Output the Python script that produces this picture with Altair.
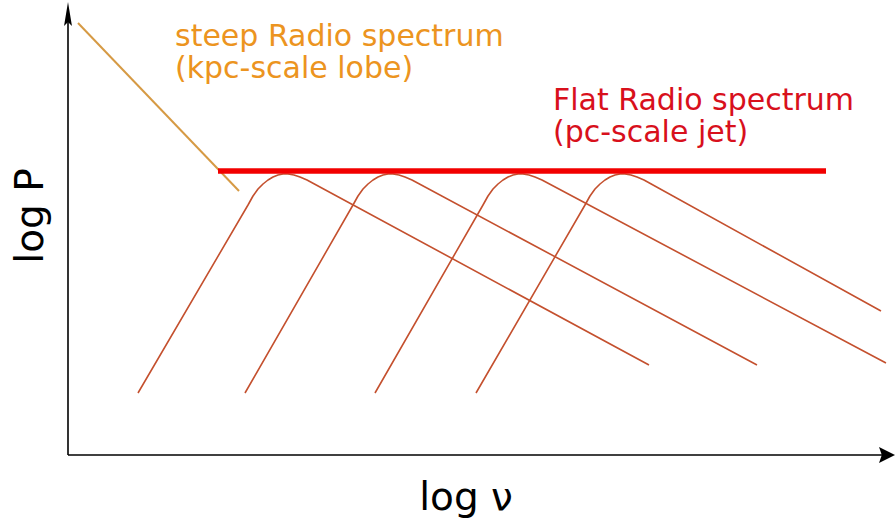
import altair as alt
import pandas as pd

# Schematic units: log ν along x, log P along y (origin at the axes corner)
X_DOMAIN = [-68, 828]
Y_DOMAIN = [-72, 455]

# Individual self-absorbed synchrotron components (rise, turnover, optically thin fall)
comp1_nu = [70, 180, 185, 190, 195, 200, 205, 210, 215, 220, 226, 232, 239, 581]
comp1_p = [62, 250, 259, 266, 271, 275, 278, 280, 281, 281, 280, 278, 275, 90]
comp2_nu = [177, 285, 290, 295, 300, 305, 310, 315, 320, 325, 331, 337, 344, 689]
comp2_p = [62, 250, 259, 266, 271, 275, 278, 280, 281, 281, 280, 278, 275, 90]
comp3_nu = [307, 415, 420, 425, 430, 435, 440, 445, 450, 455, 461, 467, 474, 818]
comp3_p = [62, 250, 259, 266, 271, 275, 278, 280, 281, 281, 280, 278, 275, 92]
comp4_nu = [408, 517, 522, 527, 532, 537, 542, 547, 552, 557, 563, 569, 576, 813]
comp4_p = [62, 250, 259, 266, 271, 275, 278, 280, 281, 281, 280, 278, 275, 144]

# Summed flat spectrum and the steep lobe spectrum
flat_nu = [150, 758]
flat_p = [284, 284]
steep_nu = [10, 171]
steep_p = [432, 264]

# Axis lines with arrow heads
axis_lines = pd.DataFrame({"u": [0, 0], "v": [0, 0], "u2": [0, 820], "v2": [440, 0]})
arrow_up = pd.DataFrame({"u": [0], "v": [441]})
arrow_right = pd.DataFrame({"u": [819], "v": [0]})

labels_orange = ["steep Radio spectrum", "(kpc-scale lobe)"]
labels_red = ["Flat Radio spectrum", "(pc-scale jet)"]

FONT = "DejaVu Sans"

xs = alt.Scale(domain=X_DOMAIN, nice=False, zero=False)
ys = alt.Scale(domain=Y_DOMAIN, nice=False, zero=False)


def xy(u="u", v="v"):
    return dict(
        x=alt.X(f"{u}:Q", scale=xs, axis=None),
        y=alt.Y(f"{v}:Q", scale=ys, axis=None),
    )


comps = []
for i, (nu, p) in enumerate(
    [(comp1_nu, comp1_p), (comp2_nu, comp2_p), (comp3_nu, comp3_p), (comp4_nu, comp4_p)]
):
    comps.append(pd.DataFrame({"u": nu, "v": p, "comp": i, "order": range(len(nu))}))
comp_df = pd.concat(comps, ignore_index=True)

components = (
    alt.Chart(comp_df)
    .mark_line(color="#c4502e", strokeWidth=1.6, interpolate="linear", strokeJoin="round")
    .encode(**xy(), detail="comp:N", order="order:Q")
)

flat = (
    alt.Chart(pd.DataFrame({"u": flat_nu, "v": flat_p}))
    .mark_line(color="#f20000", strokeWidth=5.5)
    .encode(**xy())
)

steep = (
    alt.Chart(pd.DataFrame({"u": steep_nu, "v": steep_p}))
    .mark_line(color="#d69a44", strokeWidth=2)
    .encode(**xy())
)

axes = (
    alt.Chart(axis_lines)
    .mark_rule(color="black", strokeWidth=1.6)
    .encode(
        **xy(),
        x2="u2:Q",
        y2="v2:Q",
    )
)

head_up = (
    alt.Chart(arrow_up)
    .mark_point(
        shape="M0,-1 L0.33,1 L0,0.67 L-0.33,1 Z",
        size=576,
        filled=True,
        color="black",
        opacity=1,
        strokeWidth=0,
    )
    .encode(**xy())
)

head_right = (
    alt.Chart(arrow_right)
    .mark_point(
        shape="M1,0 L-1,-1 L-0.65,0 L-1,1 Z",
        size=256,
        filled=True,
        color="black",
        opacity=1,
        strokeWidth=0,
    )
    .encode(**xy())
)

orange_text = (
    alt.Chart(pd.DataFrame({"u": [107, 107], "v": [409, 377], "t": labels_orange}))
    .mark_text(font=FONT, fontSize=30, color="#ec9420", align="left", baseline="alphabetic")
    .encode(**xy(), text="t:N")
)

red_text = (
    alt.Chart(pd.DataFrame({"u": [485, 485], "v": [345, 313], "t": labels_red}))
    .mark_text(font=FONT, fontSize=30, color="#d8101c", align="left", baseline="alphabetic")
    .encode(**xy(), text="t:N")
)

x_title = (
    alt.Chart(pd.DataFrame({"u": [398], "v": [-55], "t": ["log ν"]}))
    .mark_text(font=FONT, fontSize=39, color="black", align="center", baseline="alphabetic")
    .encode(**xy(), text="t:N")
)

y_title = (
    alt.Chart(pd.DataFrame({"u": [-25], "v": [239], "t": ["log P"]}))
    .mark_text(font=FONT, fontSize=39, color="black", align="center", baseline="alphabetic", angle=270)
    .encode(**xy(), text="t:N")
)

chart = (
    alt.layer(components, steep, flat, axes, head_up, head_right, orange_text, red_text, x_title, y_title)
    .properties(width=896, height=527, padding=0, autosize="none")
    .configure_view(stroke=None)
)

chart.save("out.html", embed_options={"renderer": "svg", "actions": False})
